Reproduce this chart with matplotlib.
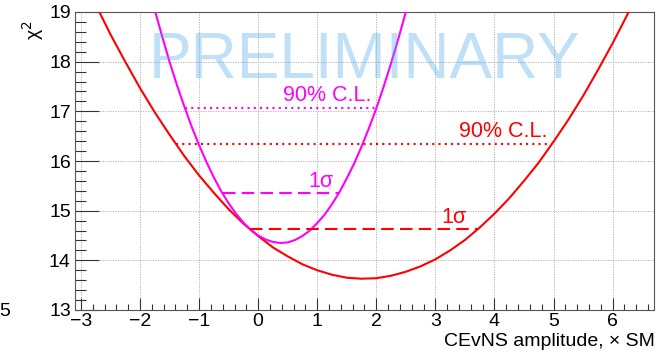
import matplotlib.pyplot as plt
from matplotlib.ticker import MultipleLocator

plt.rcParams['font.family'] = ['Liberation Sans', 'DejaVu Sans']

# chi2 scan vs CEvNS amplitude (red: wide scan, magenta: narrow scan)
red_x = [-2.75, -2.5, -2.25, -2.0, -1.75, -1.5, -1.25, -1.0, -0.75, -0.5, -0.25,
         0.0, 0.25, 0.5, 0.75, 1.0, 1.25, 1.5, 1.75, 2.0, 2.25, 2.5, 2.75, 3.0,
         3.25, 3.5, 3.75, 4.0, 4.25, 4.5, 4.75, 5.0, 5.25, 5.5, 5.75, 6.0, 6.25, 6.5]
red_chi2 = [19.15, 18.55, 18.00, 17.47, 16.98, 16.53, 16.10, 15.71, 15.36, 15.03, 14.74,
            14.49, 14.26, 14.08, 13.92, 13.80, 13.71, 13.65, 13.63, 13.64, 13.69, 13.77,
            13.88, 14.02, 14.20, 14.41, 14.66, 14.94, 15.25, 15.60, 15.97, 16.39, 16.83,
            17.31, 17.83, 18.37, 18.95, 19.57]

mag_x = [-1.875, -1.75, -1.625, -1.5, -1.375, -1.25, -1.125, -1.0, -0.875, -0.75,
         -0.625, -0.5, -0.375, -0.25, -0.125, 0.0, 0.125, 0.25, 0.375, 0.5, 0.625,
         0.75, 0.875, 1.0, 1.125, 1.25, 1.375, 1.5, 1.625, 1.75, 1.875, 2.0, 2.125,
         2.25, 2.375, 2.5, 2.625]
mag_chi2 = [19.61, 19.04, 18.51, 18.00, 17.53, 17.10, 16.69, 16.32, 15.98, 15.67,
            15.39, 15.15, 14.94, 14.76, 14.61, 14.50, 14.42, 14.37, 14.35, 14.36, 14.41,
            14.49, 14.60, 14.75, 14.92, 15.13, 15.37, 15.65, 15.95, 16.29, 16.66, 17.06,
            17.50, 17.97, 18.47, 19.00, 19.56]

# confidence intervals: (level, low, high)
red_1sig = (14.63, -0.14, 3.72)
red_90 = (16.34, -1.39, 4.97)
mag_1sig = (15.35, -0.60, 1.36)
mag_90 = (17.06, -1.24, 2.00)

RED = '#ff0000'
MAG = '#ff00ff'
FS = 14

fig = plt.figure(figsize=(6.57, 3.53), dpi=100)
ax = fig.add_axes([75/657, 1 - 310/353, 579/657, 298/353])

ax.plot(red_x, red_chi2, color=RED, lw=1.5, zorder=3)
ax.plot(mag_x, mag_chi2, color=MAG, lw=1.5, zorder=3)

dash = (0, (6, 3))
dots = (0, (1, 2))
for (lev, lo, hi), c, ls in [(red_1sig, RED, dash), (red_90, RED, dots),
                             (mag_1sig, MAG, dash), (mag_90, MAG, dots)]:
    ax.plot([lo, hi], [lev, lev], color=c, lw=1.5, ls=ls, zorder=3)

ax.text(1.92, mag_90[0] + 0.05, '90% C.L.', color=MAG, fontsize=15.5, ha='right', va='bottom')
ax.text(4.90, red_90[0] + 0.05, '90% C.L.', color=RED, fontsize=15.5, ha='right', va='bottom')
ax.text(1.07, mag_1sig[0] + 0.03, '1σ', color=MAG, fontsize=15.5, ha='center', va='bottom')
ax.text(3.32, red_1sig[0] + 0.03, '1σ', color=RED, fontsize=15.5, ha='center', va='bottom')

ax.text(0.5, 0.835, 'PRELIMINARY', transform=ax.transAxes, color='#4aa8e6', alpha=0.35,
        fontsize=46, ha='center', va='center', zorder=5)

ax.set_xlim(-3.1, 6.7)
ax.set_ylim(13, 19)
ax.xaxis.set_major_locator(MultipleLocator(1))
ax.xaxis.set_minor_locator(MultipleLocator(0.2))
ax.yaxis.set_major_locator(MultipleLocator(1))
ax.yaxis.set_minor_locator(MultipleLocator(0.2))
ax.tick_params(which='both', direction='in', top=False, right=False, color='#333',
               labelsize=FS, width=0.8)
ax.tick_params(axis='x', which='major', length=9, pad=2)
ax.tick_params(axis='x', which='minor', length=4.5)
ax.tick_params(axis='y', which='major', length=17, pad=3)
ax.tick_params(axis='y', which='minor', length=8)
ax.grid(True, which='major', color='#aaaaaa', ls=(0, (1.5, 1.5)), lw=0.6)
ax.set_axisbelow(True)
for s in ax.spines.values():
    s.set_color('#555555')
    s.set_linewidth(0.8)

fig.text(655/657, 1 - 341/353, 'CEvNS amplitude, × SM', fontsize=FS, ha='right', va='center')
fig.text(33/657, 1 - 30/353, 'χ$^2$', fontsize=FS, rotation=90, ha='center', va='center')
fig.text(5/657, 1 - 312/353, '5', fontsize=FS, ha='center', va='center')

fig.savefig('out.png', dpi=100)
